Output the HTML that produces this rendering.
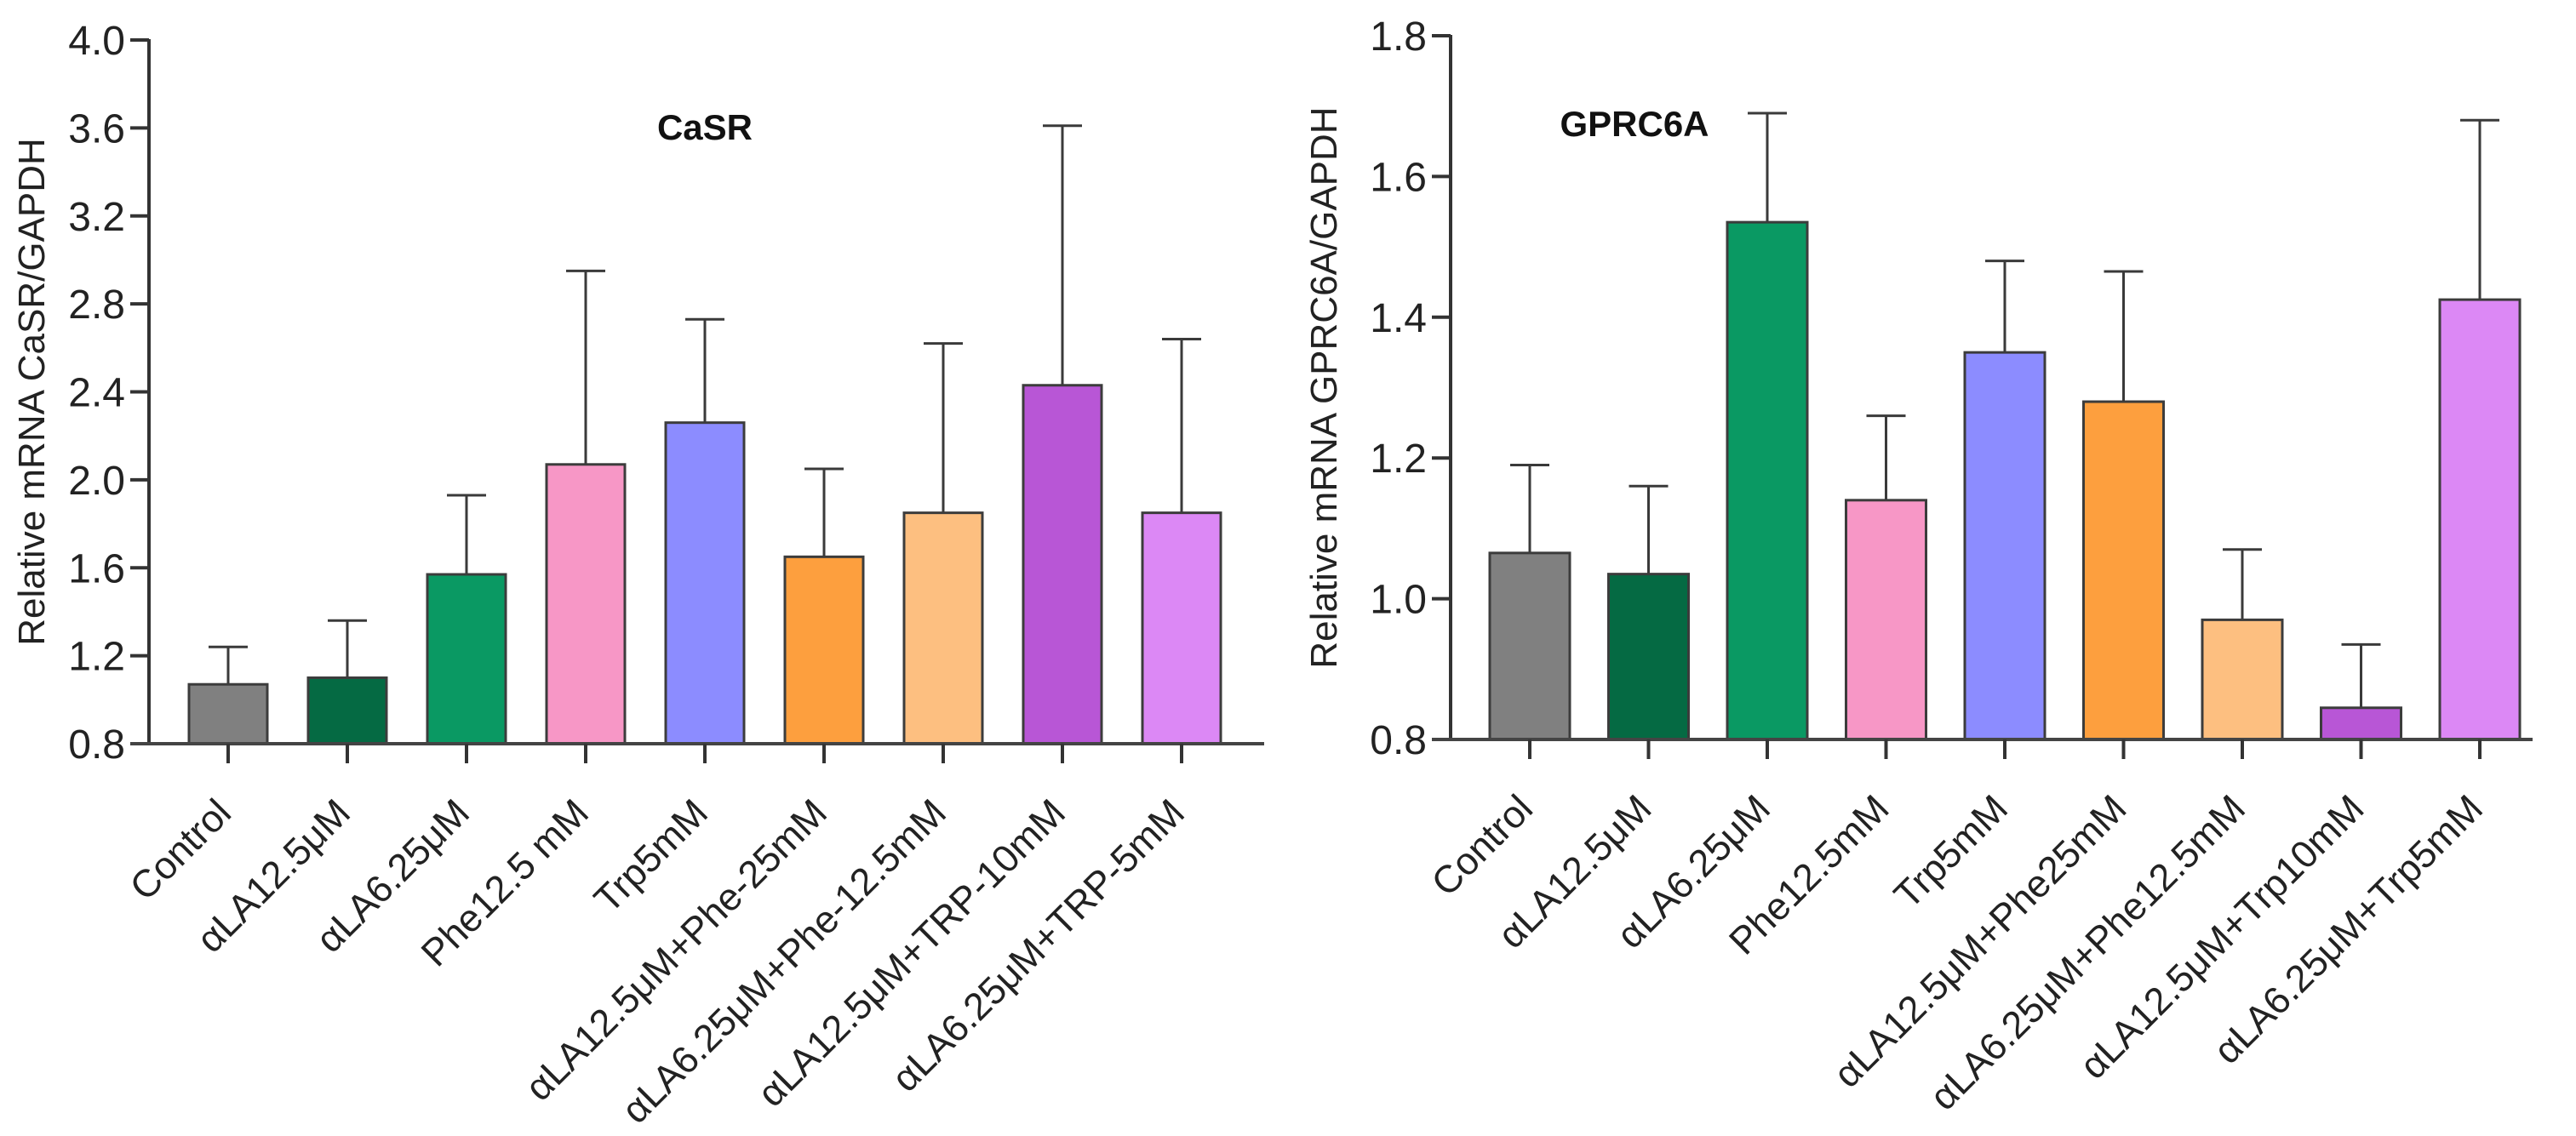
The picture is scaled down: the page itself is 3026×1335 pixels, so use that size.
<!DOCTYPE html>
<html><head><meta charset="utf-8"><style>
html,body{margin:0;padding:0;background:#fff;}
svg{display:block;font-family:"Liberation Sans",Arial,sans-serif;}
</style></head><body>
<svg id="fig" width="3026" height="1335" viewBox="0 0 3026 1335"></svg>
<script>
const colors = ["#808080","#056a43","#0a9963","#f797c6","#8c8cff","#fd9f3e","#fdbf80","#b856d6","#dc88f5"];
const casrCategories = ["Control","αLA12.5μM","αLA6.25μM","Phe12.5 mM","Trp5mM","αLA12.5μM+Phe-25mM","αLA6.25μM+Phe-12.5mM","αLA12.5μM+TRP-10mM","αLA6.25μM+TRP-5mM"];
const casrMeans = [1.07,1.10,1.57,2.07,2.26,1.65,1.85,2.43,1.85];
const casrErrTop = [1.24,1.36,1.93,2.95,2.73,2.05,2.62,3.61,2.64];
const casrTicks = ["0.8","1.2","1.6","2.0","2.4","2.8","3.2","3.6","4.0"];
const gprcCategories = ["Control","αLA12.5μM","αLA6.25μM","Phe12.5mM","Trp5mM","αLA12.5μM+Phe25mM","αLA6.25μM+Phe12.5mM","αLA12.5μM+Trp10mM","αLA6.25μM+Trp5mM"];
const gprcMeans = [1.065,1.035,1.535,1.14,1.35,1.28,0.97,0.845,1.425];
const gprcErrTop = [1.19,1.16,1.69,1.26,1.48,1.465,1.07,0.935,1.68];
const gprcTicks = ["0.8","1.0","1.2","1.4","1.6","1.8"];

const NS="http://www.w3.org/2000/svg";
const svg=document.getElementById('fig');
function mk(tag,attrs,parent){const e=document.createElementNS(NS,tag);for(const k in attrs)e.setAttribute(k,attrs[k]);(parent||svg).appendChild(e);return e;}

function drawChart(cfg){
  const g=mk('g',{});
  
  
  const yMin=cfg.yMin,yMax=cfg.yMax;
  const y=v=>cfg.y0-(v-yMin)/(yMax-yMin)*(cfg.y0-cfg.yTop);
  const x=i=>cfg.x0+i*cfg.step;
  cfg.means.forEach((m,i)=>{
    const et=cfg.err[i];
    const eb=mk('line',{x1:x(i),x2:x(i),y1:y(et),y2:y(m),stroke:'#3a3a3a','stroke-width':3},g);
    
    
    const cap=mk('line',{x1:x(i)-23,x2:x(i)+23,y1:y(et),y2:y(et),stroke:'#3a3a3a','stroke-width':3},g);
    
    
    const r=mk('rect',{x:x(i)-cfg.bw/2,y:y(m),width:cfg.bw,height:y(yMin)-y(m),fill:colors[i],stroke:'#3c3c3c','stroke-width':3},g);
    
    
  });
  const ya=mk('line',{x1:cfg.ax,x2:cfg.ax,y1:cfg.yTop-1,y2:cfg.y0+2,stroke:'#333','stroke-width':4},g);
  
  
  cfg.ticks.forEach(t=>{
    const v=parseFloat(t);
    const tk=mk('line',{x1:cfg.ax-22,x2:cfg.ax,y1:y(v),y2:y(v),stroke:'#333','stroke-width':4},g);
    
    
    const tl=mk('text',{x:cfg.ax-28,y:y(v)+17,'text-anchor':'end','font-size':48,fill:'#222'},g);
    tl.textContent=t;
    
    
  });
  const xa=mk('line',{x1:cfg.ax-22,x2:cfg.xEnd,y1:cfg.y0,y2:cfg.y0,stroke:'#444','stroke-width':4},g);
  
  
  cfg.cats.forEach((c,i)=>{
    const tk=mk('line',{x1:x(i),x2:x(i),y1:cfg.y0,y2:cfg.y0+23,stroke:'#333','stroke-width':4},g);
    
    
    const ex=x(i)+6, ey=cfg.y0+84;
    const tl=mk('text',{x:ex,y:ey,'text-anchor':'end','font-size':45,fill:'#222',transform:`rotate(-45 ${ex} ${ey})`},g);
    tl.textContent=c;
    
    
  });
  const at=mk('text',{x:cfg.titleX,y:(cfg.yTop+cfg.y0)/2,'text-anchor':'middle','font-size':44,fill:'#222',transform:`rotate(-90 ${cfg.titleX} ${(cfg.yTop+cfg.y0)/2})`},g);
  at.textContent=cfg.yTitle;
  
  
  const ct=mk('text',{x:cfg.cx,y:cfg.cy,'text-anchor':'middle','font-size':42,'font-weight':'bold',fill:'#111'},g);
  ct.textContent=cfg.title;
  
  
}
drawChart({name:'casr-chart',yMin:0.8,yMax:4.0,y0:874,yTop:47,x0:268,step:140,bw:92,ax:175,xEnd:1485,
  means:casrMeans,err:casrErrTop,ticks:casrTicks,cats:casrCategories,titleX:52,yTitle:'Relative mRNA CaSR/GAPDH',title:'CaSR',cx:828,cy:164});
drawChart({name:'gprc6a-chart',yMin:0.8,yMax:1.8,y0:869,yTop:42,x0:1797,step:139.5,bw:94,ax:1704,xEnd:2975,
  means:gprcMeans,err:gprcErrTop,ticks:gprcTicks,cats:gprcCategories,titleX:1570,yTitle:'Relative mRNA GPRC6A/GAPDH',title:'GPRC6A',cx:1920,cy:160});
</script>
</body></html>
